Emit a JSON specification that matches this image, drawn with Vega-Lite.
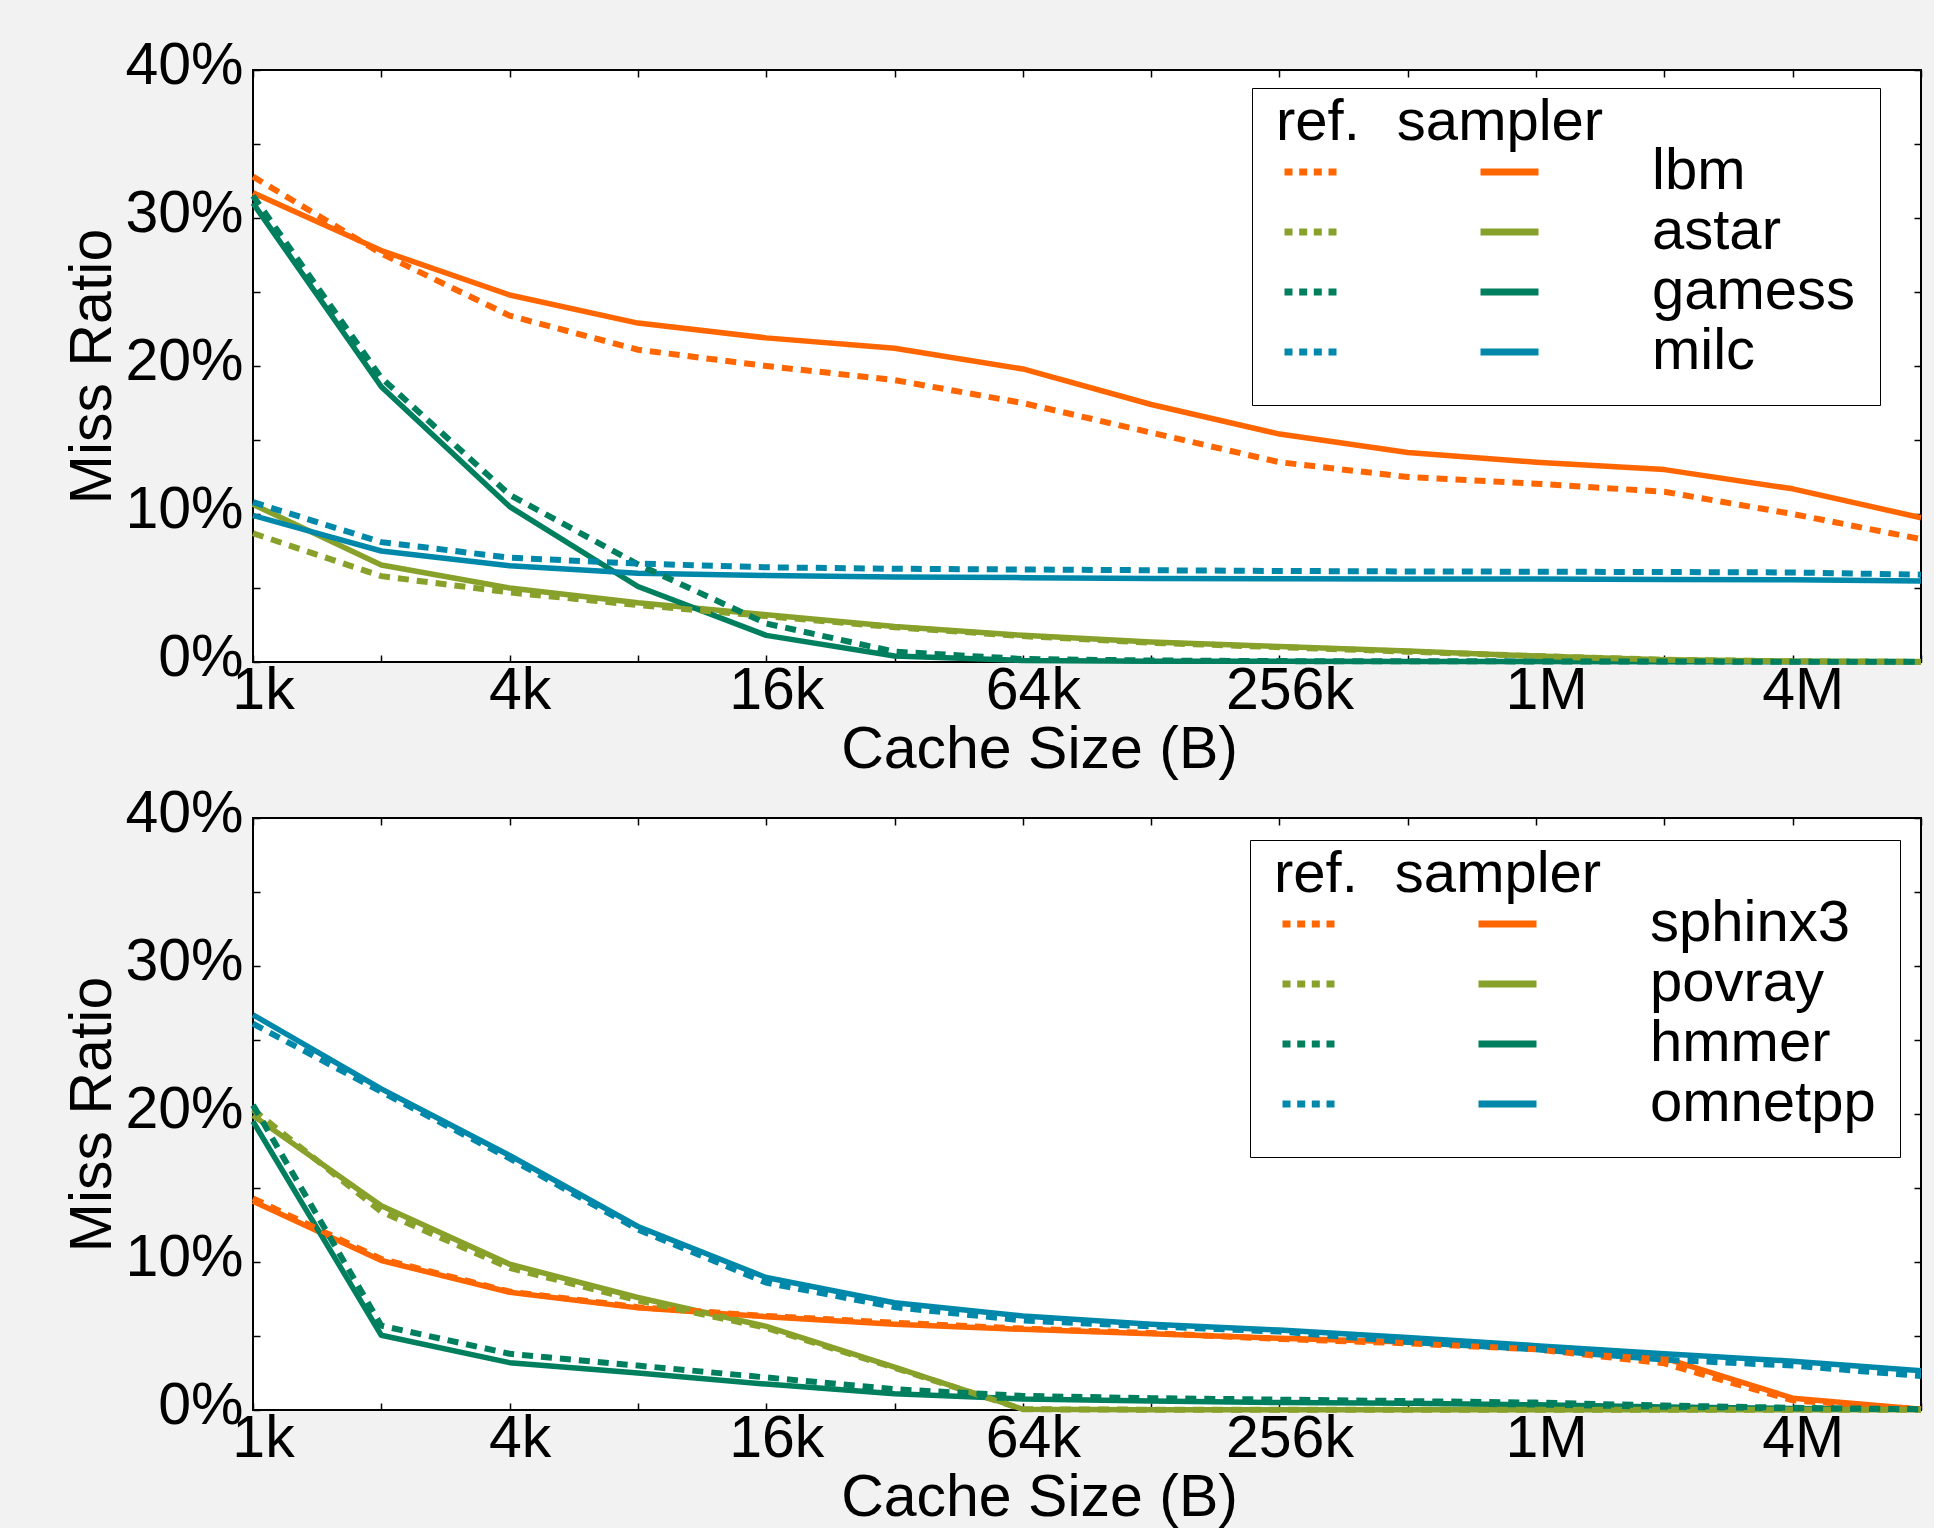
{
  "$schema": "https://vega.github.io/schema/vega-lite/v6.json",
  "background": "#f2f2f2",
  "padding": {"left": 62, "top": 35, "right": 0, "bottom": 0},
  "config": {
    "font": "Liberation Sans",
    "view": {"fill": "white", "stroke": "black", "strokeWidth": 2},
    "axis": {
      "domain": false, "grid": false, "ticks": true, "tickSize": -7, "tickWidth": 1.5, "tickColor": "black",
      "labelFont": "Liberation Sans", "labelFontSize": 59, "labelColor": "black", "labelOverlap": false, "labelFlush": false, "labelBound": false,
      "titleFont": "Liberation Sans", "titleFontSize": 59, "titleFontWeight": "normal", "titleColor": "black"
    },
    "legend": {
      "titleFont": "Liberation Sans", "titleFontSize": 58, "titleFontWeight": "normal", "titleColor": "black", "titleLimit": 1000,
      "titleBaseline": "line-top", "titleLineHeight": 22,
      "labelFont": "Liberation Sans", "labelFontSize": 58, "labelColor": "black", "labelLimit": 1000
    }
  },
  "datasets": {
    "top": [
      {"bench": "lbm", "size": 1024, "ref": 32.8, "sampler": 31.7},
      {"bench": "lbm", "size": 2048, "ref": 27.6, "sampler": 27.8},
      {"bench": "lbm", "size": 4096, "ref": 23.4, "sampler": 24.8},
      {"bench": "lbm", "size": 8192, "ref": 21.1, "sampler": 22.9},
      {"bench": "lbm", "size": 16384, "ref": 20.0, "sampler": 21.9},
      {"bench": "lbm", "size": 32768, "ref": 19.05, "sampler": 21.2},
      {"bench": "lbm", "size": 65536, "ref": 17.5, "sampler": 19.8},
      {"bench": "lbm", "size": 131072, "ref": 15.5, "sampler": 17.4},
      {"bench": "lbm", "size": 262144, "ref": 13.5, "sampler": 15.4},
      {"bench": "lbm", "size": 524288, "ref": 12.5, "sampler": 14.15},
      {"bench": "lbm", "size": 1048576, "ref": 12.05, "sampler": 13.5},
      {"bench": "lbm", "size": 2097152, "ref": 11.5, "sampler": 13.0},
      {"bench": "lbm", "size": 4194304, "ref": 10.0, "sampler": 11.7},
      {"bench": "lbm", "size": 8388608, "ref": 8.3, "sampler": 9.75},
      {"bench": "astar", "size": 1024, "ref": 8.7, "sampler": 10.65},
      {"bench": "astar", "size": 2048, "ref": 5.8, "sampler": 6.55},
      {"bench": "astar", "size": 4096, "ref": 4.7, "sampler": 5.0},
      {"bench": "astar", "size": 8192, "ref": 3.85, "sampler": 4.0},
      {"bench": "astar", "size": 16384, "ref": 3.1, "sampler": 3.2},
      {"bench": "astar", "size": 32768, "ref": 2.35, "sampler": 2.4},
      {"bench": "astar", "size": 65536, "ref": 1.75, "sampler": 1.8},
      {"bench": "astar", "size": 131072, "ref": 1.3, "sampler": 1.35},
      {"bench": "astar", "size": 262144, "ref": 1.0, "sampler": 1.05},
      {"bench": "astar", "size": 524288, "ref": 0.7, "sampler": 0.75},
      {"bench": "astar", "size": 1048576, "ref": 0.4, "sampler": 0.4},
      {"bench": "astar", "size": 2097152, "ref": 0.15, "sampler": 0.15},
      {"bench": "astar", "size": 4194304, "ref": 0.05, "sampler": 0.05},
      {"bench": "astar", "size": 8388608, "ref": 0.02, "sampler": 0.02},
      {"bench": "gamess", "size": 1024, "ref": 31.5, "sampler": 31.0},
      {"bench": "gamess", "size": 2048, "ref": 19.2, "sampler": 18.6},
      {"bench": "gamess", "size": 4096, "ref": 11.3, "sampler": 10.5},
      {"bench": "gamess", "size": 8192, "ref": 6.6, "sampler": 5.1},
      {"bench": "gamess", "size": 16384, "ref": 2.6, "sampler": 1.8},
      {"bench": "gamess", "size": 32768, "ref": 0.7, "sampler": 0.4},
      {"bench": "gamess", "size": 65536, "ref": 0.2, "sampler": 0.1},
      {"bench": "gamess", "size": 131072, "ref": 0.1, "sampler": 0.05},
      {"bench": "gamess", "size": 262144, "ref": 0.06, "sampler": 0.05},
      {"bench": "gamess", "size": 524288, "ref": 0.05, "sampler": 0.03},
      {"bench": "gamess", "size": 1048576, "ref": 0.04, "sampler": 0.03},
      {"bench": "gamess", "size": 2097152, "ref": 0.03, "sampler": 0.02},
      {"bench": "gamess", "size": 4194304, "ref": 0.02, "sampler": 0.02},
      {"bench": "gamess", "size": 8388608, "ref": 0.02, "sampler": 0.02},
      {"bench": "milc", "size": 1024, "ref": 10.8, "sampler": 9.9},
      {"bench": "milc", "size": 2048, "ref": 8.1, "sampler": 7.5},
      {"bench": "milc", "size": 4096, "ref": 7.05, "sampler": 6.5},
      {"bench": "milc", "size": 8192, "ref": 6.65, "sampler": 6.0},
      {"bench": "milc", "size": 16384, "ref": 6.4, "sampler": 5.85},
      {"bench": "milc", "size": 32768, "ref": 6.3, "sampler": 5.75},
      {"bench": "milc", "size": 65536, "ref": 6.25, "sampler": 5.7},
      {"bench": "milc", "size": 131072, "ref": 6.2, "sampler": 5.65},
      {"bench": "milc", "size": 262144, "ref": 6.15, "sampler": 5.62},
      {"bench": "milc", "size": 524288, "ref": 6.12, "sampler": 5.6},
      {"bench": "milc", "size": 1048576, "ref": 6.1, "sampler": 5.6},
      {"bench": "milc", "size": 2097152, "ref": 6.08, "sampler": 5.58},
      {"bench": "milc", "size": 4194304, "ref": 6.05, "sampler": 5.55},
      {"bench": "milc", "size": 8388608, "ref": 5.9, "sampler": 5.47}
    ],
    "bottom": [
      {"bench": "sphinx3", "size": 1024, "ref": 14.3, "sampler": 14.1},
      {"bench": "sphinx3", "size": 2048, "ref": 10.2, "sampler": 10.1},
      {"bench": "sphinx3", "size": 4096, "ref": 8.0, "sampler": 7.95},
      {"bench": "sphinx3", "size": 8192, "ref": 6.95, "sampler": 6.9},
      {"bench": "sphinx3", "size": 16384, "ref": 6.35, "sampler": 6.3},
      {"bench": "sphinx3", "size": 32768, "ref": 5.9, "sampler": 5.8},
      {"bench": "sphinx3", "size": 65536, "ref": 5.5, "sampler": 5.45},
      {"bench": "sphinx3", "size": 131072, "ref": 5.2, "sampler": 5.15},
      {"bench": "sphinx3", "size": 262144, "ref": 4.8, "sampler": 4.85},
      {"bench": "sphinx3", "size": 524288, "ref": 4.5, "sampler": 4.6},
      {"bench": "sphinx3", "size": 1048576, "ref": 4.1, "sampler": 4.25},
      {"bench": "sphinx3", "size": 2097152, "ref": 3.15, "sampler": 3.5},
      {"bench": "sphinx3", "size": 4194304, "ref": 0.65, "sampler": 0.8},
      {"bench": "sphinx3", "size": 8388608, "ref": 0.05, "sampler": 0.05},
      {"bench": "povray", "size": 1024, "ref": 20.3, "sampler": 19.9},
      {"bench": "povray", "size": 2048, "ref": 13.4, "sampler": 13.8},
      {"bench": "povray", "size": 4096, "ref": 9.6, "sampler": 9.85},
      {"bench": "povray", "size": 8192, "ref": 7.4, "sampler": 7.6},
      {"bench": "povray", "size": 16384, "ref": 5.55, "sampler": 5.65},
      {"bench": "povray", "size": 32768, "ref": 2.85, "sampler": 2.9},
      {"bench": "povray", "size": 65536, "ref": 0.05, "sampler": 0.05},
      {"bench": "povray", "size": 131072, "ref": 0.02, "sampler": 0.02},
      {"bench": "povray", "size": 262144, "ref": 0.01, "sampler": 0.01},
      {"bench": "povray", "size": 524288, "ref": 0.01, "sampler": 0.01},
      {"bench": "povray", "size": 1048576, "ref": 0.01, "sampler": 0.01},
      {"bench": "povray", "size": 2097152, "ref": 0.01, "sampler": 0.01},
      {"bench": "povray", "size": 4194304, "ref": 0.01, "sampler": 0.01},
      {"bench": "povray", "size": 8388608, "ref": 0.01, "sampler": 0.01},
      {"bench": "hmmer", "size": 1024, "ref": 20.6, "sampler": 19.5},
      {"bench": "hmmer", "size": 2048, "ref": 5.7, "sampler": 5.05},
      {"bench": "hmmer", "size": 4096, "ref": 3.8, "sampler": 3.2},
      {"bench": "hmmer", "size": 8192, "ref": 3.0, "sampler": 2.5},
      {"bench": "hmmer", "size": 16384, "ref": 2.2, "sampler": 1.75},
      {"bench": "hmmer", "size": 32768, "ref": 1.4, "sampler": 1.1},
      {"bench": "hmmer", "size": 65536, "ref": 0.95, "sampler": 0.75},
      {"bench": "hmmer", "size": 131072, "ref": 0.8, "sampler": 0.6},
      {"bench": "hmmer", "size": 262144, "ref": 0.7, "sampler": 0.5},
      {"bench": "hmmer", "size": 524288, "ref": 0.6, "sampler": 0.45},
      {"bench": "hmmer", "size": 1048576, "ref": 0.5, "sampler": 0.35},
      {"bench": "hmmer", "size": 2097152, "ref": 0.3, "sampler": 0.2},
      {"bench": "hmmer", "size": 4194304, "ref": 0.15, "sampler": 0.1},
      {"bench": "hmmer", "size": 8388608, "ref": 0.05, "sampler": 0.05},
      {"bench": "omnetpp", "size": 1024, "ref": 26.1, "sampler": 26.7},
      {"bench": "omnetpp", "size": 2048, "ref": 21.5, "sampler": 21.7},
      {"bench": "omnetpp", "size": 4096, "ref": 17.0, "sampler": 17.2},
      {"bench": "omnetpp", "size": 8192, "ref": 12.2, "sampler": 12.4},
      {"bench": "omnetpp", "size": 16384, "ref": 8.6, "sampler": 8.95},
      {"bench": "omnetpp", "size": 32768, "ref": 6.95, "sampler": 7.25},
      {"bench": "omnetpp", "size": 65536, "ref": 6.05, "sampler": 6.35},
      {"bench": "omnetpp", "size": 131072, "ref": 5.65, "sampler": 5.8},
      {"bench": "omnetpp", "size": 262144, "ref": 5.3, "sampler": 5.4},
      {"bench": "omnetpp", "size": 524288, "ref": 4.6, "sampler": 4.9},
      {"bench": "omnetpp", "size": 1048576, "ref": 4.1, "sampler": 4.35},
      {"bench": "omnetpp", "size": 2097152, "ref": 3.4, "sampler": 3.8},
      {"bench": "omnetpp", "size": 4194304, "ref": 3.0, "sampler": 3.3},
      {"bench": "omnetpp", "size": 8388608, "ref": 2.3, "sampler": 2.65}
    ]
  },
  "vconcat": [
    {
      "width": 1668, "height": 592,
      "data": {"name": "top"},
      "transform": [{"fold": ["ref", "sampler"], "as": ["kind", "miss"]}],
      "layer": [
        {
          "transform": [{"filter": "datum.kind == 'sampler'"}],
          "mark": {"type": "line", "strokeWidth": 5.5, "strokeCap": "butt", "strokeJoin": "round"},
          "encoding": {
            "x": {"field": "size", "type": "quantitative",
              "scale": {"type": "log", "base": 2, "domain": [1024, 8388608], "nice": false},
              "axis": {"orient": "bottom", "values": [1024, 2048, 4096, 8192, 16384, 32768, 65536, 131072, 262144, 524288, 1048576, 2097152, 4194304, 8388608],
                "labelExpr": "round(log(datum.value/1024)/LN2) % 2 == 1 ? '' : (datum.value >= 1048576 ? (datum.value/1048576) + 'M' : (datum.value/1024) + 'k')",
                "labelPadding": 6, "labelOffset": 10, "title": "Cache Size (B)", "titlePadding": 0, "titleX": 786, "titleAlign": "center"}},
            "y": {"field": "miss", "type": "quantitative",
              "scale": {"domain": [0, 40], "nice": false},
              "axis": {"orient": "left", "values": [0, 5, 10, 15, 20, 25, 30, 35, 40],
                "labelExpr": "datum.value % 10 == 0 ? datum.value + '%' : ''",
                "labelPadding": 17, "labelOffset": -5, "title": "Miss Ratio", "titlePadding": 2}},
            "color": {"field": "bench", "type": "nominal",
              "scale": {"domain": ["lbm", "astar", "gamess", "milc"], "range": ["#ff6600", "#88a12b", "#007f5f", "#0088aa"]},
              "legend": {"orient": "none", "legendX": 999, "legendY": 18, "title": "ref.\u00a0\u00a0\u200asampler", "titleAnchor": "start", "titlePadding": -27,
                "symbolType": "M-0.82,0H-0.5M-0.232,0H0.088M0.352,0H0.672M0.94,0H1.26M7.02,0H9.34",
                "symbolSize": 2500, "symbolStrokeWidth": 7, "labelOffset": 318, "rowPadding": 2,
                "strokeColor": "black", "fillColor": "white", "padding": 24, "cornerRadius": 0}}
          }
        },
        {
          "transform": [{"filter": "datum.kind == 'ref'"}],
          "mark": {"type": "line", "strokeWidth": 6, "strokeCap": "butt", "strokeDash": [11, 8]},
          "encoding": {
            "x": {"field": "size", "type": "quantitative",
              "axis": {"orient": "top", "values": [1024, 2048, 4096, 8192, 16384, 32768, 65536, 131072, 262144, 524288, 1048576, 2097152, 4194304, 8388608], "labels": false, "title": null}},
            "y": {"field": "miss", "type": "quantitative",
              "axis": {"orient": "right", "values": [0, 5, 10, 15, 20, 25, 30, 35, 40], "labels": false, "title": null}},
            "color": {"field": "bench", "type": "nominal", "legend": null}
          }
        }
      ],
      "resolve": {"axis": {"x": "independent", "y": "independent"}}
    },
    {
      "width": 1668, "height": 592,
      "data": {"name": "bottom"},
      "transform": [{"fold": ["ref", "sampler"], "as": ["kind", "miss"]}],
      "layer": [
        {
          "transform": [{"filter": "datum.kind == 'sampler'"}],
          "mark": {"type": "line", "strokeWidth": 5.5, "strokeCap": "butt", "strokeJoin": "round"},
          "encoding": {
            "x": {"field": "size", "type": "quantitative",
              "scale": {"type": "log", "base": 2, "domain": [1024, 8388608], "nice": false},
              "axis": {"orient": "bottom", "values": [1024, 2048, 4096, 8192, 16384, 32768, 65536, 131072, 262144, 524288, 1048576, 2097152, 4194304, 8388608],
                "labelExpr": "round(log(datum.value/1024)/LN2) % 2 == 1 ? '' : (datum.value >= 1048576 ? (datum.value/1048576) + 'M' : (datum.value/1024) + 'k')",
                "labelPadding": 6, "labelOffset": 10, "title": "Cache Size (B)", "titlePadding": 0, "titleX": 786, "titleAlign": "center"}},
            "y": {"field": "miss", "type": "quantitative",
              "scale": {"domain": [0, 40], "nice": false},
              "axis": {"orient": "left", "values": [0, 5, 10, 15, 20, 25, 30, 35, 40],
                "labelExpr": "datum.value % 10 == 0 ? datum.value + '%' : ''",
                "labelPadding": 17, "labelOffset": -5, "title": "Miss Ratio", "titlePadding": 2}},
            "color": {"field": "bench", "type": "nominal",
              "scale": {"domain": ["sphinx3", "povray", "hmmer", "omnetpp"], "range": ["#ff6600", "#88a12b", "#007f5f", "#0088aa"]},
              "legend": {"orient": "none", "legendX": 997, "legendY": 22, "title": "ref.\u00a0\u00a0\u200asampler", "titleAnchor": "start", "titlePadding": -27,
                "symbolType": "M-0.82,0H-0.5M-0.232,0H0.088M0.352,0H0.672M0.94,0H1.26M7.02,0H9.34",
                "symbolSize": 2500, "symbolStrokeWidth": 7, "labelOffset": 318, "rowPadding": 2,
                "strokeColor": "black", "fillColor": "white", "padding": 24, "cornerRadius": 0}}
          }
        },
        {
          "transform": [{"filter": "datum.kind == 'ref'"}],
          "mark": {"type": "line", "strokeWidth": 6, "strokeCap": "butt", "strokeDash": [11, 8]},
          "encoding": {
            "x": {"field": "size", "type": "quantitative",
              "axis": {"orient": "top", "values": [1024, 2048, 4096, 8192, 16384, 32768, 65536, 131072, 262144, 524288, 1048576, 2097152, 4194304, 8388608], "labels": false, "title": null}},
            "y": {"field": "miss", "type": "quantitative",
              "axis": {"orient": "right", "values": [0, 5, 10, 15, 20, 25, 30, 35, 40], "labels": false, "title": null}},
            "color": {"field": "bench", "type": "nominal", "legend": null}
          }
        }
      ],
      "resolve": {"axis": {"x": "independent", "y": "independent"}}
    }
  ],
  "spacing": 3,
  "resolve": {"scale": {"color": "independent"}, "legend": {"color": "independent"}}
}
